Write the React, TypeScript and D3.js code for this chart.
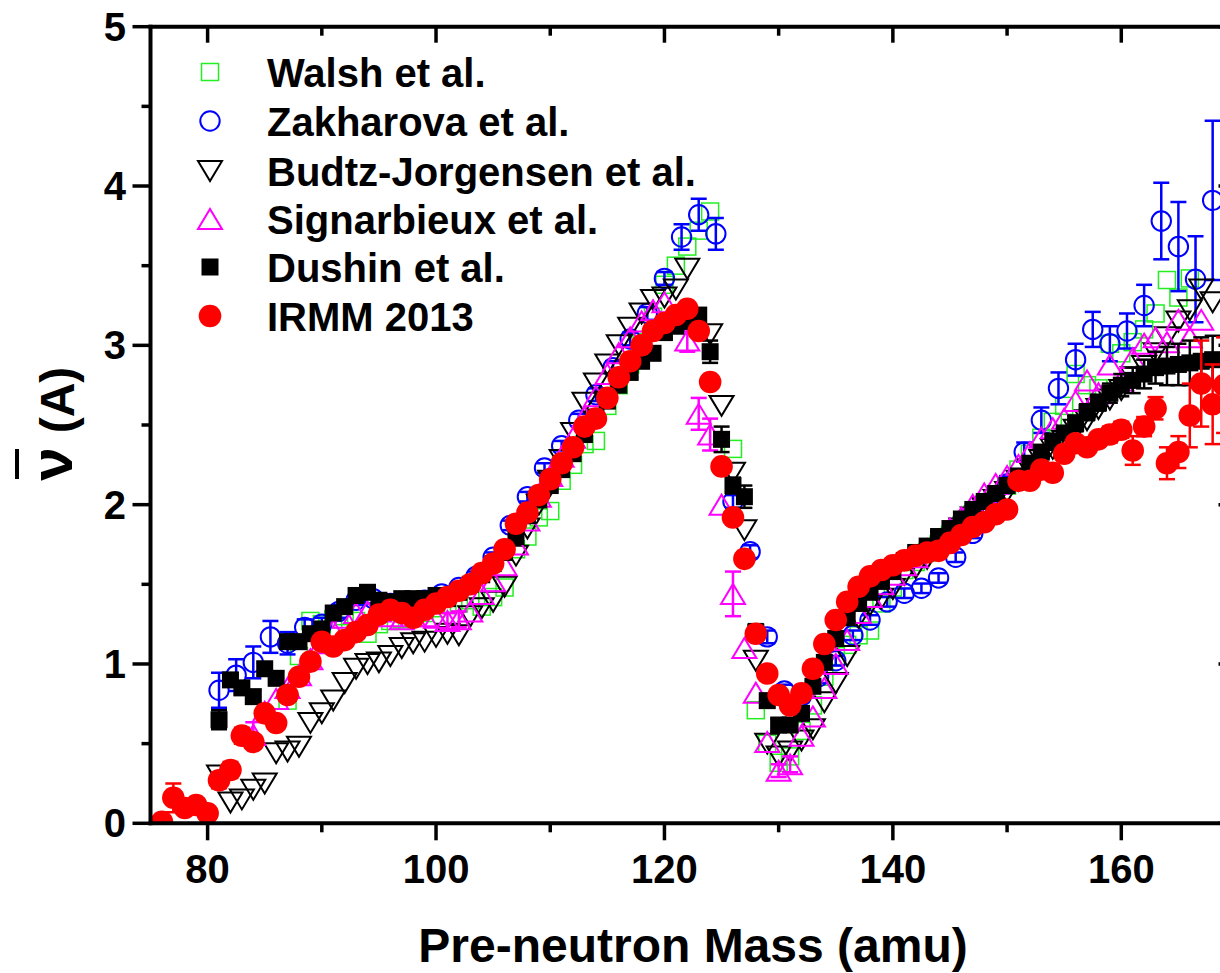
import React from 'react';
import * as d3 from 'd3';

// [mass, nu, err]
const walsh: [number, number, number][] = [
  [87,0.77,0],[88,1.05,0],[89,1.27,0],[90,1.25,0],[91,1.28,0],[92,1.30,0],[93,1.27,0],[94,1.19,0],[95,1.25,0],[96,1.27,0],
  [97,1.28,0],[98,1.30,0],[99,1.32,0],[100,1.35,0],[101,1.37,0],[102,1.38,0],[103,1.40,0],[104,1.36,0],[105,1.42,0],[106,1.48,0],
  [107,1.72,0],[108,1.80,0],[109,1.92,0],[110,1.96,0],[111,2.15,0],[112,2.25,0],[113,2.38,0],[114,2.40,0],[115,2.62,0],[116,2.75,0],
  [117,2.88,0],[118,3.02,0],[119,3.18,0],[120,3.38,0],[121,3.50,0],[122,3.62,0],[123,3.72,0],[124,3.84,0],[126,2.35,0],[128,0.71,0],
  [129,0.50,0],[130,0.38,0],[131,0.42,0],[132,0.58,0],[133,0.74,0],[134,0.92,0],[135,1.05,0],[136,1.12,0],[137,1.18,0],[138,1.21,0],
  [139,1.38,0],[140,1.48,0],[141,1.59,0],[142,1.64,0],[143,1.70,0],[144,1.75,0],[145,1.81,0],[146,1.87,0],[147,1.94,0],[148,2.00,0],
  [149,2.06,0],[150,2.12,0],[151,2.22,0],[152,2.32,0],[153,2.42,0],[154,2.52,0],[155,2.62,0],[156,2.82,0],[157,2.75,0],[158,2.73,0],
  [159,3.01,0],[160,2.95,0],[161,3.02,0],[162,3.10,0],[163,3.20,0],[164,3.41,0],[165,3.30,0],[166,3.42,0]
];

const zakharova: [number, number, number][] = [
  [81,0.835,0.11],[82.5,0.93,0.10],[84,1.01,0.10],[85.5,1.17,0.10],[87,1.13,0.07],[88.5,1.23,0.05],[90,1.25,0.04],[91.5,1.33,0.04],
  [93,1.40,0.03],[94.5,1.41,0.03],[96,1.38,0.03],[97.5,1.39,0.03],[99,1.40,0.03],[100.5,1.44,0.03],[102,1.48,0.03],[103.5,1.55,0.03],
  [105,1.67,0.03],[106.5,1.87,0.03],[108,2.05,0.03],[109.5,2.23,0.03],[111,2.37,0.03],[112.5,2.53,0.04],[114,2.69,0.04],[115.5,2.86,0.04],
  [117,3.04,0.04],[118.5,3.20,0.04],[120,3.42,0.04],[121.5,3.68,0.08],[123,3.82,0.10],[124.5,3.70,0.10],[126,2.02,0.04],[127.5,1.705,0.04],
  [129,1.17,0.04],[130.5,0.83,0.04],[132,0.80,0.04],[133.5,0.92,0.04],[135,1.02,0.03],[136.5,1.18,0.03],[138,1.276,0.03],[139.5,1.39,0.03],
  [141,1.444,0.03],[142.5,1.475,0.03],[144,1.54,0.03],[145.5,1.67,0.03],[147,1.82,0.03],[148.5,1.97,0.04],[150,2.13,0.05],[151.5,2.33,0.06],
  [153,2.53,0.08],[154.5,2.73,0.10],[156,2.91,0.10],[157.5,3.10,0.11],[159,3.01,0.11],[160.5,3.09,0.11],[162,3.25,0.13],[163.5,3.78,0.24],
  [165,3.62,0.28],[166.5,3.415,0.27],[168,3.91,0.50]
];

const budtz: [number, number, number][] = [
  [81,0.30,0],[82,0.13,0],[83,0.15,0],[84,0.21,0],[85,0.25,0],[86,0.44,0],[87,0.45,0],[88,0.48,0],[89,0.63,0],[90,0.69,0],
  [91,0.77,0],[92,0.88,0],[93,0.97,0],[94,1.00,0],[95,1.01,0],[96,1.05,0],[97,1.10,0],[98,1.13,0],[99,1.14,0],[100,1.17,0],
  [101,1.19,0],[102,1.18,0],[103,1.30,0],[104,1.35,0],[105,1.39,0],[106,1.485,0],[107,1.68,0],[108,1.85,0],[109,2.00,0],[110,2.15,0],
  [111,2.28,0],[112,2.45,0],[113,2.64,0],[114,2.76,0],[115,2.88,0],[116,3.00,0],[117,3.11,0],[118,3.20,0],[119,3.285,0],[120,3.30,0],
  [121,3.35,0],[122,3.48,0],[124,3.07,0],[125,2.62,0],[126,2.20,0],[127,1.84,0],[128,1.02,0],[129,0.50,0],[130,0.42,0],[131,0.45,0],
  [132,0.52,0],[133,0.59,0],[134,0.76,0],[135,0.88,0],[136,1.05,0],[137,1.29,0],[138,1.37,0],[139,1.41,0],[140,1.47,0],[141,1.56,0],
  [142,1.60,0],[143,1.66,0],[144,1.72,0],[145,1.78,0],[146,1.85,0],[147,1.92,0],[148,1.98,0],[149,2.03,0],[150,2.08,0],[151,2.15,0],
  [152,2.22,0],[153,2.28,0],[154,2.35,0],[155,2.40,0],[156,2.47,0],[157,2.53,0],[158,2.60,0],[159,2.66,0],[160,2.72,0],[161,2.80,0],
  [162,2.87,0],[163,2.95,0],[164,3.05,0],[165,3.15,0],[166,3.22,0],[167,3.35,0],[168,3.27,0]
];

const signarbieux: [number, number, number][] = [
  [84,0.555,0.08],[85,0.70,0],[86,0.78,0],[87,0.85,0],[88,0.93,0],[89,1.03,0],[90,1.13,0],[91,1.21,0],[92,1.29,0],[93,1.32,0],
  [94,1.33,0],[95,1.33,0],[96,1.30,0],[97,1.28,0],[98,1.30,0],[99,1.30,0],[100,1.29,0],[101,1.27,0.05],[102,1.28,0.05],[103,1.33,0],
  [104,1.44,0],[105,1.52,0],[106,1.62,0],[107,1.75,0],[108,1.90,0],[109,2.05,0],[110,2.18,0],[111,2.30,0],[112,2.42,0],[113,2.55,0],
  [114,2.68,0],[115,2.82,0],[116,2.95,0],[117,3.05,0],[118,3.15,0],[119,3.22,0],[120,3.27,0],[121,3.15,0],[122,3.03,0.07],[123,2.57,0.10],
  [124,2.44,0.10],[125,2.00,0],[126,1.44,0.14],[127,1.10,0],[128,0.82,0],[129,0.51,0],[130,0.33,0.04],[131,0.37,0.05],[132,0.55,0],[133,0.67,0],
  [134,0.85,0],[135,1.00,0],[136,1.15,0],[137,1.32,0],[138,1.42,0],[139,1.50,0],[140,1.56,0],[141,1.62,0],[142,1.67,0],[143,1.72,0],
  [144,1.78,0],[145,1.85,0],[146,1.92,0],[147,2.00,0],[148,2.07,0],[149,2.13,0],[150,2.18,0],[151,2.25,0],[152,2.33,0],[153,2.42,0],
  [154,2.48,0],[155,2.54,0],[156,2.65,0],[157,2.78,0],[158,2.70,0],[159,2.88,0],[160,2.78,0],[161,2.92,0],[162,3.01,0],[163,3.05,0],
  [164,3.02,0],[165,3.16,0],[166,3.05,0],[167,3.16,0]
];

const dushin: [number, number, number][] = [
  [81,0.65,0.06],[82,0.90,0.04],[83,0.85,0.04],[84,0.795,0.04],[85,0.97,0.04],[86,0.91,0.04],[87,1.14,0.04],[88,1.14,0.03],[89,1.19,0.03],[90,1.22,0.03],
  [91,1.32,0.03],[92,1.36,0.03],[93,1.43,0.03],[94,1.45,0.03],[95,1.40,0.03],[96,1.39,0.03],[97,1.41,0.03],[98,1.41,0.03],[99,1.41,0.03],[100,1.43,0.03],
  [101,1.41,0.03],[102,1.45,0.03],[103,1.50,0.03],[104,1.56,0.03],[105,1.63,0.03],[106,1.70,0.03],[107,1.80,0.03],[108,1.93,0.03],[109,2.03,0.03],[110,2.12,0.03],
  [111,2.22,0.03],[112,2.32,0.03],[113,2.44,0.03],[114,2.55,0.03],[115,2.65,0.03],[116,2.75,0.03],[117,2.83,0.03],[118,2.90,0.03],[119,2.95,0.03],[120,3.08,0.04],
  [121,3.12,0.04],[122,3.15,0.04],[123,3.19,0.04],[124,2.96,0.07],[125,2.41,0.08],[126,2.12,0.05],[127,2.05,0.07],[128,1.20,0.05],[129,0.77,0.04],[130,0.617,0.04],
  [131,0.617,0.04],[132,0.69,0.04],[133,0.86,0.03],[134,1.01,0.03],[135,1.16,0.03],[136,1.29,0.03],[137,1.38,0.03],[138,1.45,0.03],[139,1.52,0.03],[140,1.58,0.03],
  [141,1.65,0.03],[142,1.70,0.03],[143,1.74,0.03],[144,1.80,0.03],[145,1.85,0.03],[146,1.91,0.03],[147,1.97,0.03],[148,2.02,0.03],[149,2.07,0.03],[150,2.12,0.03],
  [151,2.18,0.03],[152,2.26,0.03],[153,2.33,0.04],[154,2.40,0.04],[155,2.45,0.04],[156,2.51,0.05],[157,2.58,0.05],[158,2.64,0.05],[159,2.70,0.06],[160,2.75,0.07],
  [161,2.78,0.08],[162,2.82,0.09],[163,2.86,0.10],[164,2.87,0.12],[165,2.88,0.13],[166,2.89,0.14],[167,2.90,0.15],[168,2.91,0.15]
];

const irmm: [number, number, number][] = [
  [76,0.01,0.02],[77,0.16,0.09],[78,0.096,0.03],[79,0.115,0.04],[80,0.063,0.03],[81,0.27,0.05],[82,0.335,0.05],[83,0.55,0.05],[84,0.51,0.04],[85,0.69,0.04],
  [86,0.63,0.03],[87,0.805,0.03],[88,0.92,0.03],[89,1.015,0.03],[90,1.14,0.03],[91,1.11,0.03],[92,1.15,0.03],[93,1.20,0.03],[94,1.245,0.03],[95,1.31,0.03],
  [96,1.34,0.03],[97,1.32,0.03],[98,1.29,0.03],[99,1.34,0.03],[100,1.38,0.03],[101,1.42,0.03],[102,1.46,0.03],[103,1.50,0.03],[104,1.57,0.03],[105,1.63,0.03],
  [106,1.72,0.03],[107,1.88,0.03],[108,1.95,0.03],[109,2.06,0.03],[110,2.16,0.03],[111,2.26,0.03],[112,2.36,0.03],[113,2.49,0.03],[114,2.54,0.03],[115,2.67,0.03],
  [116,2.80,0.03],[117,2.90,0.03],[118,3.00,0.03],[119,3.09,0.03],[120,3.14,0.03],[121,3.19,0.03],[122,3.23,0.03],[123,3.09,0.03],[124,2.77,0.04],[125,2.24,0.04],
  [126,1.92,0.04],[127,1.66,0.04],[128,1.19,0.04],[129,0.94,0.03],[130,0.805,0.03],[131,0.74,0.03],[132,0.816,0.03],[133,0.97,0.03],[134,1.125,0.03],[135,1.276,0.03],
  [136,1.39,0.03],[137,1.485,0.03],[138,1.55,0.03],[139,1.59,0.03],[140,1.62,0.03],[141,1.65,0.03],[142,1.68,0.03],[143,1.70,0.03],[144,1.71,0.03],[145,1.76,0.03],
  [146,1.81,0.03],[147,1.86,0.03],[148,1.89,0.03],[149,1.94,0.03],[150,1.97,0.03],[151,2.15,0.03],[152,2.15,0.03],[153,2.22,0.04],[154,2.20,0.04],[155,2.32,0.04],
  [156,2.385,0.04],[157,2.36,0.04],[158,2.41,0.04],[159,2.44,0.05],[160,2.47,0.05],[161,2.34,0.09],[162,2.49,0.06],[163,2.605,0.07],[164,2.26,0.10],[165,2.33,0.10],
  [166,2.56,0.20],[167,2.76,0.27],[168,2.63,0.25],[169,2.75,0.30]
];

const legendNames = ['Walsh et al.', 'Zakharova et al.', 'Budtz-Jorgensen et al.', 'Signarbieux et al.', 'Dushin et al.', 'IRMM 2013'];
const xMajorTicks = [80, 100, 120, 140, 160];
const xMinorTicks = [90, 110, 130, 150, 170];
const yMajorTicks = [0, 1, 2, 3, 4, 5];
const yMinorTicks = [0.5, 1.5, 2.5, 3.5, 4.5];

const FONT = "'Liberation Sans', Arial, Helvetica, sans-serif";

type Kind = 'openSquare' | 'openCircle' | 'downTri' | 'upTri' | 'fillSquare' | 'fillCircle';

function Marker({ kind, cx, cy }: { kind: Kind; cx: number; cy: number }) {
  switch (kind) {
    case 'openSquare':
      return <rect x={cx - 8.5} y={cy - 8.5} width={17} height={17} fill="none" stroke="#22ee22" strokeWidth={1.5} />;
    case 'openCircle':
      return <circle cx={cx} cy={cy} r={9.7} fill="none" stroke="#0000ff" strokeWidth={2} />;
    case 'downTri':
      return <path d={`M${cx - 12},${cy - 10}L${cx + 12},${cy - 10}L${cx},${cy + 10}Z`} fill="none" stroke="#000" strokeWidth={2} />;
    case 'upTri':
      return <path d={`M${cx - 12},${cy + 10}L${cx + 12},${cy + 10}L${cx},${cy - 10}Z`} fill="none" stroke="#ff00ff" strokeWidth={2} />;
    case 'fillSquare':
      return <rect x={cx - 8.5} y={cy - 8.5} width={17} height={17} fill="#000" />;
    case 'fillCircle':
      return <circle cx={cx} cy={cy} r={11.3} fill="#ff0000" />;
  }
}

export default function App() {
  const W = 1220, H = 973;
  const x = d3.scaleLinear().domain([75, 170]).range([150.5, 1235.5]);
  const y = d3.scaleLinear().domain([0, 5]).range([823.3, 26.7]);
  const [xl, xr] = x.range();
  const [yb, yt] = y.range();

  const series: { data: [number, number, number][]; kind: Kind; color: string }[] = [
    { data: walsh, kind: 'openSquare', color: '#22ee22' },
    { data: zakharova, kind: 'openCircle', color: '#0000ff' },
    { data: budtz, kind: 'downTri', color: '#000' },
    { data: signarbieux, kind: 'upTri', color: '#ff00ff' },
    { data: dushin, kind: 'fillSquare', color: '#000' },
    { data: irmm, kind: 'fillCircle', color: '#ff0000' },
  ];

  const legendY = [72, 121, 171, 219, 267, 316];
  const axisW = 4;

  return (
    <svg width={W} height={H} style={{ position: 'absolute', left: 0, top: 0, background: '#fff' }} fontFamily={FONT}>
      <defs>
        <clipPath id="plotClip">
          <rect x={xl} y={yt} width={xr - xl} height={yb - yt} />
        </clipPath>
      </defs>
      <rect x={0} y={0} width={W} height={H} fill="#fff" />
      <g clipPath="url(#plotClip)">
        {series.map((s, si) => (
          <g key={si}>
            {s.data.filter(d => d[2] > 0).map((d, i) => {
              const cx = x(d[0]);
              const y1 = y(d[1] + d[2]);
              const y2 = y(d[1] - d[2]);
              return (
                <g key={'e' + i} stroke={s.color} strokeWidth={2.5}>
                  <line x1={cx} x2={cx} y1={y1} y2={y2} />
                  <line x1={cx - 8} x2={cx + 8} y1={y1} y2={y1} />
                  <line x1={cx - 8} x2={cx + 8} y1={y2} y2={y2} />
                </g>
              );
            })}
            {s.data.map((d, i) => (
              <Marker key={i} kind={s.kind} cx={x(d[0])} cy={y(d[1])} />
            ))}
          </g>
        ))}
      </g>

      <g stroke="#000" strokeWidth={axisW} strokeLinecap="square">
        <line x1={xl} x2={xr} y1={yb} y2={yb} />
        <line x1={xl} x2={xr} y1={yt} y2={yt} />
        <line x1={xl} x2={xl} y1={yt} y2={yb} />
        <line x1={xr} x2={xr} y1={yt} y2={yb} />
      </g>
      <g stroke="#000" strokeWidth={3.5}>
        {xMajorTicks.map(t => (
          <g key={'xM' + t}>
            <line x1={x(t)} x2={x(t)} y1={yb} y2={yb + 17} />
            <line x1={x(t)} x2={x(t)} y1={yt} y2={yt + 16} />
          </g>
        ))}
        {xMinorTicks.map(t => (
          <g key={'xm' + t}>
            <line x1={x(t)} x2={x(t)} y1={yb} y2={yb + 9} />
            <line x1={x(t)} x2={x(t)} y1={yt} y2={yt + 9} />
          </g>
        ))}
        {yMajorTicks.map(t => (
          <g key={'yM' + t}>
            <line x1={xl - 18} x2={xl} y1={y(t)} y2={y(t)} />
            <line x1={xr - 17} x2={xr} y1={y(t)} y2={y(t)} />
          </g>
        ))}
        {yMinorTicks.map(t => (
          <g key={'ym' + t}>
            <line x1={xl - 9} x2={xl} y1={y(t)} y2={y(t)} />
            <line x1={xr - 9} x2={xr} y1={y(t)} y2={y(t)} />
          </g>
        ))}
      </g>
      <g fontSize={40} fontWeight="bold" fill="#000">
        {xMajorTicks.map(t => (
          <text key={'xl' + t} x={x(t)} y={883} textAnchor="middle">{t}</text>
        ))}
        {yMajorTicks.map(t => (
          <text key={'yl' + t} x={126} y={y(t) + 14} textAnchor="end">{t}</text>
        ))}
      </g>
      <text x={(xl + xr) / 2} y={962} textAnchor="middle" fontSize={48} fontWeight="bold">Pre-neutron Mass (amu)</text>
      <g transform="translate(74,425) rotate(-90)">
        <text x={-39} y={-2} textAnchor="middle" fontSize={60} fontWeight="bold">ν</text>
        <line x1={-54} x2={-24} y1={-57} y2={-57} stroke="#000" strokeWidth={4} />
        <text x={25} y={0} textAnchor="middle" fontSize={48} fontWeight="bold">(A)</text>
      </g>
      <g>
        {series.map((s, i) => (
          <g key={'lg' + i}>
            <Marker kind={s.kind} cx={210} cy={legendY[i]} />
            <text x={267} y={legendY[i] + 14.5} fontSize={40} fontWeight="bold">{legendNames[i]}</text>
          </g>
        ))}
      </g>
    </svg>
  );
}
